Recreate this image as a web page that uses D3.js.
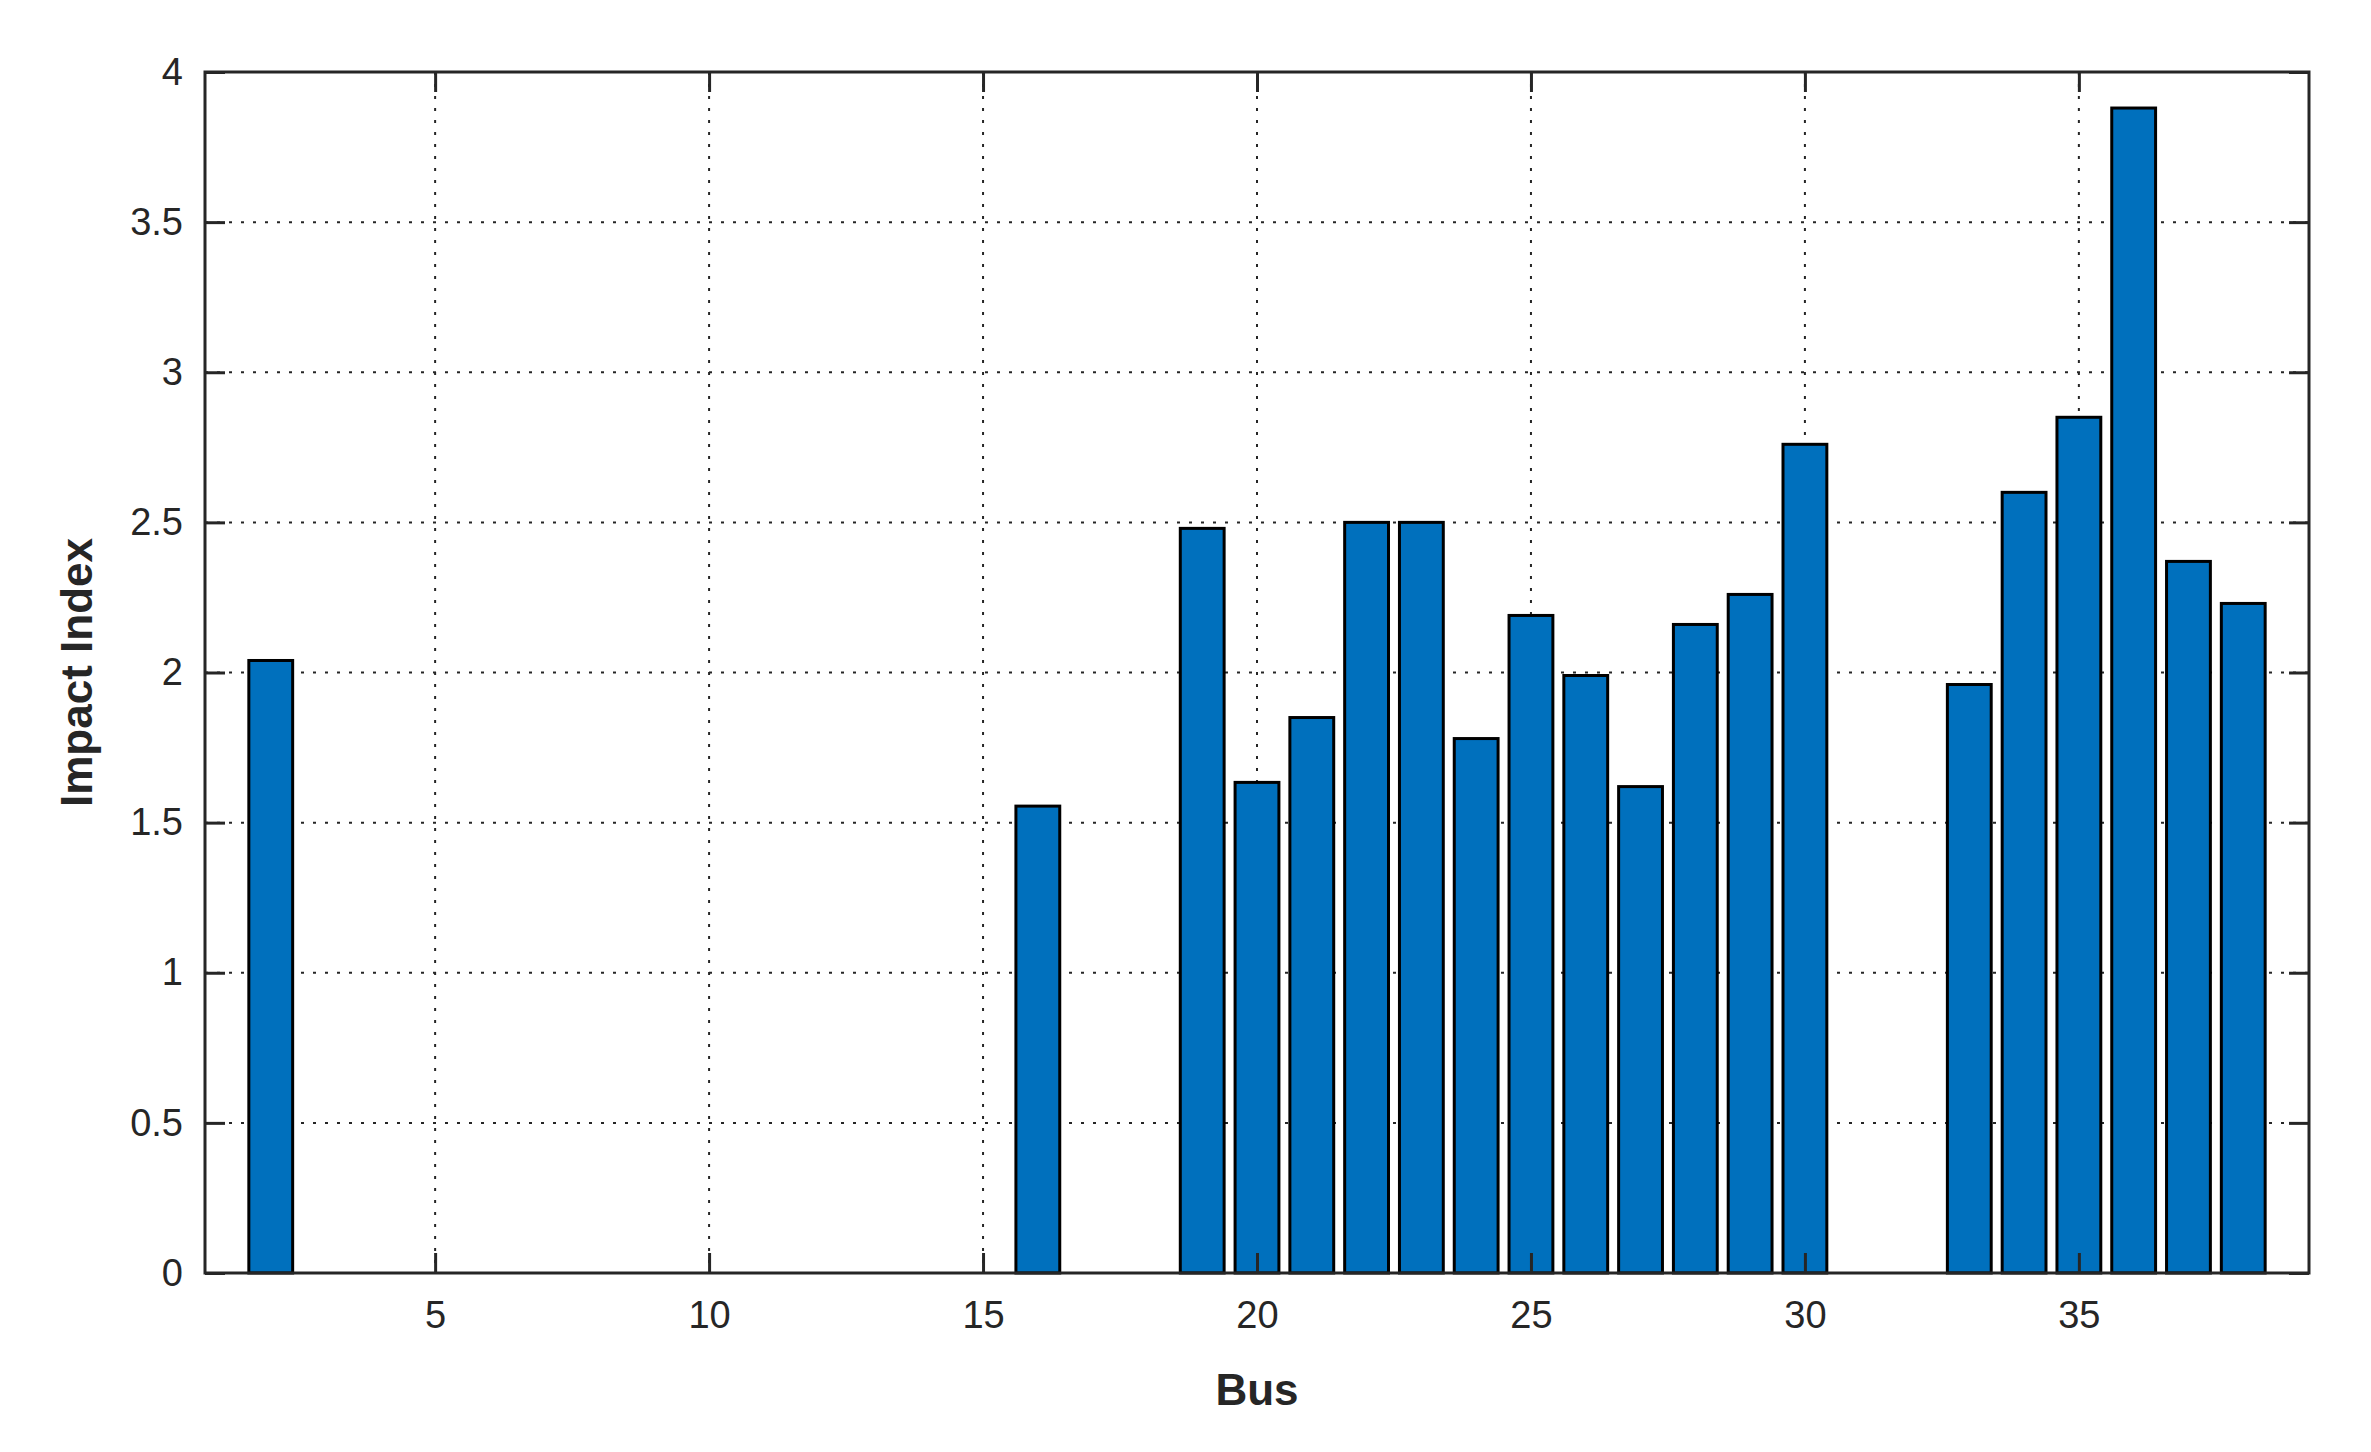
<!DOCTYPE html>
<html><head><meta charset="utf-8">
<script src="https://cdn.jsdelivr.net/npm/d3@7"></script>
<style>body{margin:0;background:#fff}text{font-family:"Liberation Sans",Arial,sans-serif;fill:#262626}</style>
</head><body><svg id="c" width="2371" height="1452"></svg>
<script>
const buses = d3.range(1, 39);
const values = [0,2.04,0,0,0,0,0,0,0,0,0,0,0,0,0,1.555,0,0,2.48,1.634,1.85,2.50,2.50,1.78,2.19,1.99,1.62,2.16,2.26,2.76,0,0,1.96,2.60,2.85,3.88,2.37,2.23];
const xTicks = [5,10,15,20,25,30,35];
const yTicks = [0,0.5,1,1.5,2,2.5,3,3.5,4];

const L=205,R=2309,T=72,B=1273;
const svg=d3.select("#c");
const x=d3.scaleLinear().domain([0.8,39.2]).range([L,R]);
const y=d3.scaleLinear().domain([0,4]).range([B,T]);
const g=svg.append("g");
// grid
g.selectAll(".gx").data(xTicks).join("line").attr("x1",d=>x(d)).attr("x2",d=>x(d)).attr("y1",T).attr("y2",B)
 .attr("stroke","#262626").attr("stroke-width",2).attr("stroke-dasharray","3,9");
g.selectAll(".gy").data(yTicks).join("line").attr("y1",d=>y(d)).attr("y2",d=>y(d)).attr("x1",L).attr("x2",R)
 .attr("stroke","#262626").attr("stroke-width",2).attr("stroke-dasharray","3,9");
// bars
const bw=0.8;
g.selectAll(".bar").data(buses.filter((b,i)=>values[i]>0)).join("rect")
 .attr("x",d=>x(d-bw/2)).attr("width",d=>x(d+bw/2)-x(d-bw/2))
 .attr("y",d=>y(values[d-1])).attr("height",d=>y(0)-y(values[d-1]))
 .attr("fill","#0070BD").attr("stroke","#000").attr("stroke-width",3);
// axes
const ax=d3.axisBottom(x).tickValues(xTicks).tickSize(-20).tickPadding(28).tickFormat(d3.format("d"));
const ay=d3.axisLeft(y).tickValues(yTicks).tickSize(-20).tickPadding(22).tickFormat(d=>d);
const gx=svg.append("g").attr("transform",`translate(0,${B})`).call(ax);
const gy=svg.append("g").attr("transform",`translate(${L},0)`).call(ay);
svg.append("g").attr("transform",`translate(0,${T})`).call(d3.axisTop(x).tickValues(xTicks).tickSize(-20).tickFormat(""));
svg.append("g").attr("transform",`translate(${R},0)`).call(d3.axisRight(y).tickValues(yTicks).tickSize(-20).tickFormat(""));
svg.selectAll(".domain").remove();
svg.selectAll(".tick line").attr("stroke","#262626").attr("stroke-width",3);
svg.selectAll(".tick text").attr("font-size",38).style("font-family","Liberation Sans, Arial").attr("fill","#262626");
svg.append("rect").attr("x",L).attr("y",T).attr("width",R-L).attr("height",B-T).attr("fill","none").attr("stroke","#262626").attr("stroke-width",3);
svg.append("text").attr("x",x(20)).attr("y",1405).attr("text-anchor","middle").attr("font-size",44).attr("font-weight","bold").text("Bus");
svg.append("text").attr("transform",`translate(92,${(T+B)/2}) rotate(-90)`).attr("text-anchor","middle").attr("font-size",44).attr("font-weight","bold").text("Impact Index");
</script></body></html>
